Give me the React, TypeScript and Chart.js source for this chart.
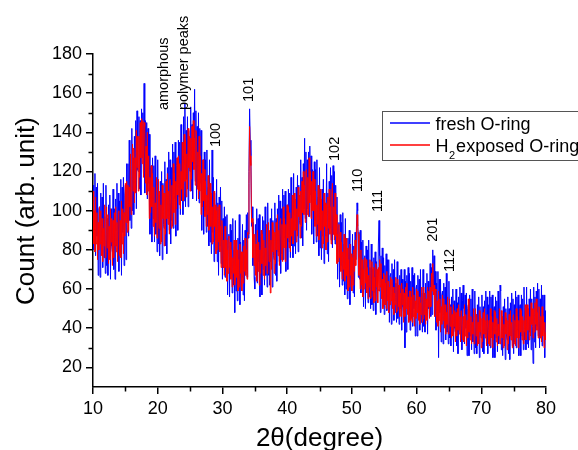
import React, { useEffect, useRef } from 'react';
import { Chart, registerables } from 'chart.js';

Chart.register(...registerables);

// 2θ sampling grid of the scans (degrees)
const START_DEG = 10;
const STEP_DEG = 0.1;

// Counts, one value per 0.1° from 10° to 80° (one row per degree)
const freshCounts = [
  113,80,96,119,77,112,87,114,67,101,
  102,66,109,80,107,71,114,76,97,68,
  113,72,96,67,103,79,108,65,101,82,
  79,111,70,101,65,106,82,114,76,109,
  69,105,79,116,67,112,89,117,72,108,
  113,75,124,94,124,87,136,95,121,91,
  142,100,127,98,138,114,146,101,151,121,
  120,148,111,146,108,152,127,150,119,165,
  109,146,115,145,106,142,114,139,88,122,
  123,84,127,96,123,84,128,88,110,79,
  126,83,108,77,115,90,120,75,114,93,
  91,125,82,116,78,122,96,130,90,126,
  83,122,95,134,91,130,106,135,87,123,
  127,90,136,107,135,98,144,105,128,98,
  148,105,155,102,141,116,148,102,141,121,
  120,153,110,144,106,150,124,162,115,151,
  105,143,112,150,104,142,114,141,90,125,
  126,88,130,100,126,89,131,92,112,82,
  126,84,107,78,131,89,117,74,109,89,
  85,116,74,104,67,107,82,112,73,105,
  65,96,71,102,66,97,75,98,57,86,
  88,56,93,68,90,58,96,62,80,48,
  95,59,79,54,86,65,98,52,84,67,
  66,93,57,85,54,90,70,98,66,99,
  86,120,152,136,128,92,102,72,94,66,
  60,93,68,101,63,96,74,98,56,87,
  90,57,97,70,95,62,102,67,88,61,
  104,67,89,62,96,74,101,61,95,77,
  75,104,67,96,64,101,79,108,74,105,
  68,101,78,111,75,108,86,110,69,100,
  103,70,111,84,109,76,117,82,103,76,
  119,82,105,78,112,90,118,79,113,95,
  93,126,86,117,82,124,101,137,96,130,
  90,126,101,130,97,133,108,128,88,121,
  120,83,125,95,121,84,126,87,107,77,
  122,81,105,75,111,87,116,73,109,90,
  87,124,78,109,74,115,91,122,85,118,
  81,123,88,120,83,113,88,107,65,92,
  94,61,98,72,94,62,99,64,83,57,
  96,60,80,55,86,65,90,52,83,66,
  65,88,58,82,56,89,75,90,104,100,
  66,89,65,90,58,84,66,85,51,76,
  77,50,82,61,80,53,85,56,71,50,
  83,52,70,49,76,58,79,47,74,60,
  59,83,95,77,48,77,58,81,51,76,
  47,72,52,78,49,75,57,75,43,67,
  68,42,73,52,70,44,75,48,63,43,
  74,45,62,42,67,50,70,39,65,51,
  48,70,30,64,38,67,49,71,44,68,
  39,64,45,71,41,67,50,68,36,60,
  62,36,67,46,65,39,70,43,58,38,
  70,41,58,38,63,47,68,37,64,50,
  50,73,46,71,47,80,59,77,47,69,
  39,63,43,69,25,65,48,65,33,57,
  59,32,63,42,61,34,68,38,53,32,
  64,35,52,31,56,39,60,28,54,40,
  38,60,31,53,27,56,39,61,34,58,
  29,54,62,50,32,57,40,58,26,50,
  52,26,57,36,55,29,60,33,47,27,
  59,30,47,27,52,35,56,25,51,37,
  35,57,28,51,27,54,37,59,32,56,
  27,52,33,59,30,56,39,57,25,49,
  51,25,56,35,54,28,59,32,38,62,
  59,29,46,26,51,34,55,24,50,36,
  34,56,27,50,24,53,36,58,31,55,
  27,52,33,59,30,56,39,57,26,50,
  52,26,57,36,55,29,61,34,49,29,
  61,32,50,30,55,38,60,29,55,41,
  22,61,33,56,30,59,41,63,36,60,
  30,55,35,62,31,57,39,57,25,49,
  37,
];

const exposedCounts = [
  110,83,100,79,107,83,99,75,94,80,
  102,83,100,77,96,74,91,82,103,76,
  78,102,81,98,73,92,75,101,84,96,
  72,95,76,99,82,102,79,94,74,99,
  100,77,95,76,105,83,101,78,99,87,
  114,94,115,89,113,90,112,102,129,98,
  103,134,110,132,104,127,109,141,122,138,
  110,138,117,145,127,147,124,146,117,145,
  143,114,133,108,140,110,128,96,117,99,
  123,102,119,92,112,87,104,94,117,86,
  89,116,91,110,83,103,84,113,96,109,
  82,109,88,115,96,119,93,110,88,116,
  116,91,113,92,124,99,119,93,115,101,
  127,108,128,103,124,101,120,111,135,105,
  109,139,115,136,107,129,111,142,122,138,
  110,137,116,143,125,146,121,137,113,141,
  139,111,130,106,138,110,128,98,119,102,
  126,105,121,97,115,92,108,98,118,90,
  91,114,92,109,83,102,84,110,92,103,
  78,100,80,102,84,103,79,92,71,95,
  91,71,85,67,92,71,85,64,80,68,
  87,71,84,65,80,61,76,68,85,62,
  64,85,66,80,59,75,61,83,68,79,
  59,79,63,82,69,86,67,80,65,89,
  88,114,143,128,123,94,96,76,88,72,
  88,67,83,64,90,69,84,62,80,68,
  90,73,88,67,85,65,81,72,93,68,
  72,94,74,90,58,85,70,94,79,90,
  68,89,73,94,80,98,77,90,72,95,
  96,75,93,74,102,81,96,74,93,81,
  103,86,102,81,99,79,96,87,108,83,
  87,109,90,106,84,101,87,112,97,108,
  86,110,92,115,99,120,98,113,94,120,
  121,98,117,97,127,104,120,96,115,100,
  120,100,116,92,110,87,103,93,113,85,
  87,111,90,106,81,100,83,109,92,104,
  80,103,84,107,91,111,88,102,83,108,
  114,88,102,85,109,87,98,73,88,74,
  93,76,89,69,84,65,79,70,88,64,
  65,86,67,81,59,75,61,83,67,78,
  59,76,62,80,69,85,72,86,98,92,
  88,67,76,60,80,62,75,56,70,60,
  76,63,75,58,71,55,67,61,75,55,
  56,74,59,71,53,66,54,73,61,70,
  53,71,59,75,61,73,55,65,50,68,
  67,52,63,50,69,54,64,48,61,52,
  66,54,65,50,61,47,58,52,66,48,
  49,65,51,62,46,58,46,63,52,60,
  43,58,46,61,50,63,47,56,43,59,
  59,44,56,43,61,46,57,41,54,45,
  60,48,59,44,56,42,53,47,61,43,
  45,61,47,58,42,55,44,61,51,59,
  45,61,51,68,59,73,57,62,46,60,
  59,43,54,41,59,44,55,38,51,42,
  57,44,55,40,52,37,48,42,56,37,
  39,55,41,51,35,47,36,52,41,49,
  33,48,36,50,39,52,37,46,33,49,
  49,34,46,33,52,36,47,31,44,35,
  55,38,49,34,46,32,43,37,50,32,
  34,50,36,47,31,43,32,49,38,46,
  30,45,33,48,37,50,35,44,31,47,
  47,32,44,31,50,35,46,30,43,34,
  49,37,48,33,45,31,42,36,50,32,
  34,49,35,46,30,42,31,48,37,45,
  29,44,32,47,36,49,34,43,30,46,
  47,32,44,31,50,35,46,30,44,35,
  50,38,49,34,46,32,44,38,52,34,
  36,52,39,50,34,46,36,53,42,50,
  35,50,38,53,42,55,39,48,35,51,
  50,35,46,33,51,36,46,30,43,34,
  38,
];

const seriesNames = ['fresh O-ring', 'H2exposed O-ring'];
const seriesColors = ['#0000ff', '#ff0000'];

const xTicks = [10, 20, 30, 40, 50, 60, 70, 80];
const xMinorTicks = [15, 25, 35, 45, 55, 65, 75];
const yTicks = [20, 40, 60, 80, 100, 120, 140, 160, 180];
const yMinorTicks = [30, 50, 70, 90, 110, 130, 150, 170];

// Peak annotations (rotated text), anchored at their lower end
const peakLabels = ['amorphous', 'polymer peaks', '100', '101', '102', '110', '111', '201', '112'];
const peakX = [20.9, 24.0, 28.93, 34.1, 47.4, 50.95, 54.04, 62.54, 65.17];
const peakY = [151.4, 151.4, 132.5, 155.5, 125.4, 109.6, 99.4, 84.1, 68.7];

const FONT = '"Liberation Sans", Arial, sans-serif';

export default function App() {
  const ref = useRef<HTMLCanvasElement | null>(null);

  useEffect(() => {
    document.body.style.margin = '0';
    const canvas = ref.current;
    if (!canvas) return;

    const toPoints = (arr: number[]) => arr.map((v, i) => ({ x: START_DEG + i * STEP_DEG, y: v }));

    const extras = {
      id: 'extras',
      afterDraw(chart: any) {
        const ctx = chart.ctx as CanvasRenderingContext2D;
        const xs = chart.scales.x;
        const ys = chart.scales.y;
        const area = chart.chartArea;
        ctx.save();

        // minor ticks
        ctx.strokeStyle = '#000';
        ctx.lineWidth = 1.5;
        ctx.beginPath();
        xMinorTicks.forEach((v) => {
          const px = Math.round(xs.getPixelForValue(v)) + 0.5;
          ctx.moveTo(px, area.bottom);
          ctx.lineTo(px, area.bottom + 4.5);
        });
        yMinorTicks.forEach((v) => {
          const py = Math.round(ys.getPixelForValue(v)) + 0.5;
          ctx.moveTo(area.left, py);
          ctx.lineTo(area.left - 4.5, py);
        });
        ctx.stroke();

        // axis titles
        ctx.fillStyle = '#000';
        ctx.font = `26px ${FONT}`;
        ctx.textAlign = 'center';
        ctx.textBaseline = 'alphabetic';
        ctx.fillText('2θ(degree)', (area.left + area.right) / 2, 446);
        ctx.save();
        ctx.translate(34, 211);
        ctx.rotate(-Math.PI / 2);
        ctx.fillText('Count (arb. unit)', 0, 0);
        ctx.restore();

        // peak labels
        ctx.font = `14.5px ${FONT}`;
        ctx.textAlign = 'left';
        ctx.textBaseline = 'middle';
        peakLabels.forEach((t, i) => {
          const px = xs.getPixelForValue(peakX[i]);
          const py = ys.getPixelForValue(peakY[i]);
          ctx.save();
          ctx.translate(px, py);
          ctx.rotate(-Math.PI / 2);
          ctx.fillText(t, 0, 0);
          ctx.restore();
        });

        // legend
        const lx = area.right - 163.5;
        const ly = 111.5;
        ctx.fillStyle = '#fff';
        ctx.fillRect(lx, ly, 240, 49);
        ctx.strokeStyle = '#555';
        ctx.lineWidth = 1;
        ctx.strokeRect(lx, ly, 240, 49);
        const rows = [123, 145];
        rows.forEach((ry, i) => {
          ctx.strokeStyle = seriesColors[i];
          ctx.lineWidth = 1.5;
          ctx.beginPath();
          ctx.moveTo(lx + 7.5, ry);
          ctx.lineTo(lx + 47.5, ry);
          ctx.stroke();
        });
        ctx.fillStyle = '#000';
        ctx.textBaseline = 'alphabetic';
        ctx.textAlign = 'left';
        ctx.font = `18px ${FONT}`;
        const tx = lx + 53;
        ctx.fillText(seriesNames[0], tx, 130);
        const name2 = seriesNames[1];
        const head = name2.slice(0, 1);
        const sub = name2.slice(1, 2);
        const rest = name2.slice(2);
        ctx.fillText(head, tx, 152);
        const wH = ctx.measureText(head).width;
        ctx.font = `11px ${FONT}`;
        ctx.fillText(sub, tx + wH + 0.5, 158.5);
        const wS = ctx.measureText(sub).width;
        ctx.font = `18px ${FONT}`;
        ctx.fillText(rest, tx + wH + wS + 1.5, 152);

        ctx.restore();
      },
    };

    const chart = new Chart(canvas, {
      type: 'line',
      data: {
        datasets: [
          {
            label: seriesNames[0],
            data: toPoints(freshCounts),
            borderColor: seriesColors[0],
            backgroundColor: seriesColors[0],
            borderWidth: 1,
            pointRadius: 0,
            tension: 0,
            order: 1,
          },
          {
            label: seriesNames[1],
            data: toPoints(exposedCounts),
            borderColor: seriesColors[1],
            backgroundColor: seriesColors[1],
            borderWidth: 1,
            pointRadius: 0,
            tension: 0,
            order: 0,
          },
        ],
      },
      options: {
        responsive: false,
        animation: false,
        devicePixelRatio: 1,
        layout: { padding: { left: 0, top: 54, right: 32, bottom: 0 } },
        plugins: { legend: { display: false }, tooltip: { enabled: false } },
        scales: {
          x: {
            type: 'linear',
            min: 10,
            max: 80,
            afterBuildTicks: (axis: any) => {
              axis.ticks = xTicks.map((v) => ({ value: v }));
            },
            afterFit: (axis: any) => {
              axis.height = 63;
            },
            ticks: {
              color: '#000',
              font: { family: FONT, size: 18 },
              padding: 4,
              maxRotation: 0,
              autoSkip: false,
            },
            grid: { drawOnChartArea: false, drawTicks: true, tickLength: 7, color: '#000', lineWidth: 1.5 },
            border: { color: '#000', width: 1.5 },
          },
          y: {
            type: 'linear',
            min: 10,
            max: 180,
            afterBuildTicks: (axis: any) => {
              axis.ticks = yTicks.map((v) => ({ value: v }));
            },
            afterFit: (axis: any) => {
              axis.width = 93;
            },
            ticks: {
              color: '#000',
              font: { family: FONT, size: 18 },
              padding: 4,
              autoSkip: false,
            },
            grid: { drawOnChartArea: false, drawTicks: true, tickLength: 7, color: '#000', lineWidth: 1.5 },
            border: { color: '#000', width: 1.5 },
          },
        },
      },
      plugins: [extras],
    } as any);

    return () => chart.destroy();
  }, []);

  return (
    <div style={{ width: 578, height: 450 }}>
      <canvas ref={ref} width={578} height={450} style={{ display: 'block' }} />
    </div>
  );
}
